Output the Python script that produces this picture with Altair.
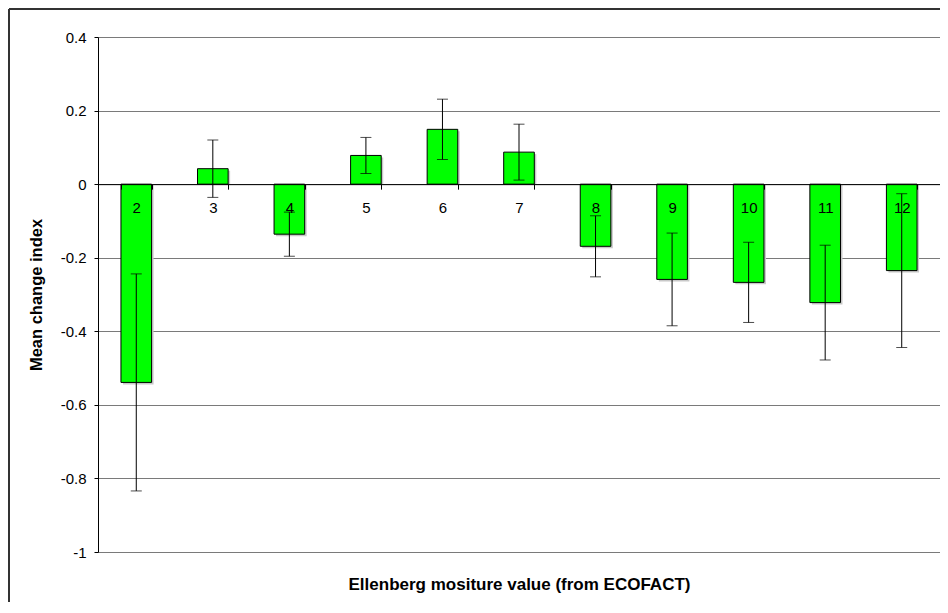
import altair as alt
import pandas as pd

categories = ["2", "3", "4", "5", "6", "7", "8", "9", "10", "11", "12"]
means = [-0.539, 0.042, -0.136, 0.078, 0.149, 0.087, -0.169, -0.259, -0.267, -0.322, -0.235]
errors = [0.295, 0.078, 0.060, 0.049, 0.082, 0.076, 0.083, 0.126, 0.109, 0.156, 0.209]
y_ticks = [-1, -0.8, -0.6, -0.4, -0.2, 0, 0.2, 0.4]

x_title = "Ellenberg mositure value (from ECOFACT)"
y_title = "Mean change index"

df = pd.DataFrame({"cat": categories, "mean": means, "err": errors})
df["lo"] = df["mean"] - df["err"]
df["hi"] = df["mean"] + df["err"]

W, H = 842, 515
FONT = "Liberation Sans"

xscale = alt.Scale(domain=categories, paddingInner=0.6, paddingOuter=0.3)
yscale = alt.Scale(domain=[-1, 0.4], nice=False, zero=False)

x_axis = alt.Axis(
    orient="bottom", offset=-(H - H * 0.4 / 1.4), tickBand="extent",
    domainColor="black", tickColor="black", tickSize=5, labelPadding=11,
    labelFont=FONT, labelFontSize=15, labelColor="black", labelAngle=0,
    title=x_title, titleFont=FONT, titleFontSize=17, titleFontWeight="bold",
    titleColor="black", titleY=H * 1.0 / 1.4 + 32, titleBaseline="middle",
    grid=False, zindex=1,
)
y_axis = alt.Axis(
    values=y_ticks, labelExpr="'' + datum.value", grid=True, gridColor="#7a7a7a",
    gridWidth=1, domainColor="black", tickColor="black", tickSize=4, labelPadding=8,
    labelFont=FONT, labelFontSize=15, labelColor="black",
    title=y_title, titleFont=FONT, titleFontSize=16.5, titleFontWeight="bold",
    titleColor="black", titlePadding=16,
)

base = alt.Chart(df)

shadow = base.mark_bar(color="#c8c8c8", xOffset=2, yOffset=2).encode(
    x=alt.X("cat:N", scale=xscale, axis=x_axis, sort=categories),
    y=alt.Y("mean:Q", scale=yscale, axis=y_axis),
    y2=alt.datum(0),
)
bars = base.mark_bar(color="#00ff00", stroke="black", strokeWidth=1).encode(
    x=alt.X("cat:N", sort=categories),
    y=alt.Y("mean:Q"),
    y2=alt.datum(0),
)
err_rule = base.mark_rule(color="black", strokeWidth=1).encode(
    x=alt.X("cat:N", sort=categories),
    y="lo:Q",
    y2="hi:Q",
)
cap_lo = base.mark_tick(color="black", thickness=1, size=11, orient="horizontal").encode(
    x=alt.X("cat:N", sort=categories), y="lo:Q"
)
cap_hi = base.mark_tick(color="black", thickness=1, size=11, orient="horizontal").encode(
    x=alt.X("cat:N", sort=categories), y="hi:Q"
)
border_left = alt.Chart(pd.DataFrame({"a": [0]})).mark_rule(color="#333333", strokeWidth=2).encode(
    x=alt.value(-89), y=alt.value(-28), y2=alt.value(H + 50)
)
border_top = alt.Chart(pd.DataFrame({"a": [0]})).mark_rule(color="#333333", strokeWidth=2).encode(
    x=alt.value(-89), x2=alt.value(W), y=alt.value(-28)
)

chart = alt.layer(shadow, bars, err_rule, cap_lo, cap_hi, border_left, border_top).properties(
    width=W, height=H,
    padding={"left": 90, "top": 29, "right": 0, "bottom": 50},
    autosize=alt.AutoSizeParams(type="none"),
    background="white",
).configure_view(stroke=None)

chart.save("out.html", embed_options={"renderer": "svg", "actions": False})
